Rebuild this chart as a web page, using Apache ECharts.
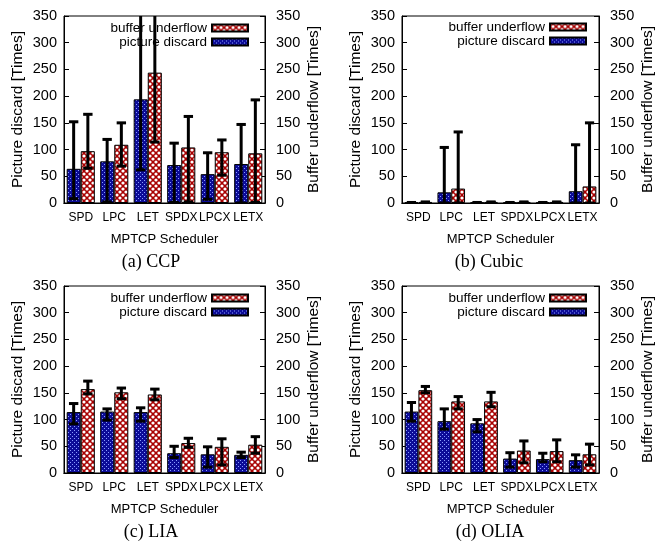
<!DOCTYPE html>
<html>
<head>
<meta charset="utf-8">
<script src="https://cdn.jsdelivr.net/npm/echarts@6/dist/echarts.min.js"></script>
<style>
  html, body { margin: 0; padding: 0; background: #fff; }
  #main { width: 657px; height: 545px; }
</style>
</head>
<body>
<div id="main"></div>
<script>
var categories = ['SPD', 'LPC', 'LET', 'SPDX', 'LPCX', 'LETX'];
var captions = ['(a) CCP', '(b) Cubic', '(c) LIA', '(d) OLIA'];

// picture discard (blue) and buffer underflow (red), with error bar low/high
var ccpDiscard = [64, 78, 194, 71, 54, 73];
var ccpDiscardLow = [8, 2, 62, 1, 7, 0];
var ccpDiscardHigh = [152, 119, 400, 112, 94, 147];
var ccpUnderflow = [97, 109, 244, 104, 95, 93];
var ccpUnderflowLow = [65, 69, 114, 2, 52, 1];
var ccpUnderflowHigh = [166, 150, 400, 162, 118, 193];

var cubicDiscard = [1, 20, 1, 1, 1, 22];
var cubicDiscardLow = [0, 0, 0, 0, 0, 0];
var cubicDiscardHigh = [1, 104, 1, 1, 1, 109];
var cubicUnderflow = [2, 27, 2, 2, 2, 31];
var cubicUnderflowLow = [1, 0, 1, 1, 1, 0];
var cubicUnderflowHigh = [2, 133, 2, 2, 2, 150];

var liaDiscard = [114, 115, 114, 37, 35, 34];
var liaDiscardLow = [92, 99, 97, 29, 11, 29];
var liaDiscardHigh = [130, 120, 122, 50, 49, 39];
var liaUnderflow = [157, 151, 147, 56, 49, 53];
var liaUnderflowLow = [148, 139, 137, 48, 15, 37];
var liaUnderflowHigh = [172, 159, 157, 65, 64, 68];

var oliaDiscard = [115, 97, 93, 27, 26, 24];
var oliaDiscardLow = [97, 82, 77, 11, 21, 11];
var oliaDiscardHigh = [132, 120, 100, 38, 37, 34];
var oliaUnderflow = [155, 134, 134, 42, 41, 35];
var oliaUnderflowLow = [150, 120, 124, 19, 21, 15];
var oliaUnderflowHigh = [162, 143, 151, 60, 62, 54];

var panels = [
  {disc: ccpDiscard, dLo: ccpDiscardLow, dHi: ccpDiscardHigh, buf: ccpUnderflow, bLo: ccpUnderflowLow, bHi: ccpUnderflowHigh},
  {disc: cubicDiscard, dLo: cubicDiscardLow, dHi: cubicDiscardHigh, buf: cubicUnderflow, bLo: cubicUnderflowLow, bHi: cubicUnderflowHigh},
  {disc: liaDiscard, dLo: liaDiscardLow, dHi: liaDiscardHigh, buf: liaUnderflow, bLo: liaUnderflowLow, bHi: liaUnderflowHigh},
  {disc: oliaDiscard, dLo: oliaDiscardLow, dHi: oliaDiscardHigh, buf: oliaUnderflow, bLo: oliaUnderflowLow, bHi: oliaUnderflowHigh}
];

// gnuplot-ish fill patterns
function bluePattern() {
  var c = document.createElement('canvas');
  c.width = 4; c.height = 4;
  var ctx = c.getContext('2d');
  ctx.fillStyle = '#0c0c98';
  ctx.fillRect(0, 0, 4, 4);
  ctx.fillStyle = '#8a9cff';
  ctx.fillRect(0, 0, 1, 1);
  ctx.fillRect(2, 2, 1, 1);
  return c;
}
function redPattern() {
  var c = document.createElement('canvas');
  c.width = 6; c.height = 6;
  var ctx = c.getContext('2d');
  ctx.fillStyle = '#a80000';
  ctx.fillRect(0, 0, 6, 6);
  ctx.fillStyle = '#ffffff';
  ctx.beginPath(); ctx.arc(3, 3, 1.6, 0, Math.PI * 2); ctx.fill();
  ctx.beginPath(); ctx.arc(0, 0, 1.6, 0, Math.PI * 2); ctx.fill();
  ctx.beginPath(); ctx.arc(6, 0, 1.6, 0, Math.PI * 2); ctx.fill();
  ctx.beginPath(); ctx.arc(0, 6, 1.6, 0, Math.PI * 2); ctx.fill();
  ctx.beginPath(); ctx.arc(6, 6, 1.6, 0, Math.PI * 2); ctx.fill();
  return c;
}
var blueFill = {image: bluePattern(), repeat: 'repeat'};
var redFill = {image: redPattern(), repeat: 'repeat'};

var grids = [
  {left: 64, top: 16, width: 201, height: 187},
  {left: 402, top: 16, width: 201, height: 187},
  {left: 64, top: 286, width: 201, height: 187},
  {left: 402, top: 286, width: 201, height: 187}
];
var legendPos = [
  {right: 408, top: 21},
  {right: 70, top: 20},
  {right: 408, top: 291},
  {right: 70, top: 291}
];
var captionPos = [[151, 262], [489, 262], [151, 532], [490, 532]];

function errorBar(side) {
  return function (params, api) {
    var band = api.size([1, 0])[0];
    var off = band * 0.212 * side;
    var lo = api.coord([api.value(0), api.value(1)]);
    var hi = api.coord([api.value(0), api.value(2)]);
    var cx = lo[0] + off;
    var half = band * 0.14;
    var st = {stroke: '#000', lineWidth: 3};
    return {
      type: 'group',
      children: [
        {type: 'line', shape: {x1: cx, y1: lo[1], x2: cx, y2: hi[1]}, style: st},
        {type: 'line', shape: {x1: cx - half, y1: lo[1], x2: cx + half, y2: lo[1]}, style: st},
        {type: 'line', shape: {x1: cx - half, y1: hi[1], x2: cx + half, y2: hi[1]}, style: st}
      ]
    };
  };
}

var xAxes = [], yAxes = [], series = [], legends = [], graphics = [];
grids.forEach(function (g, i) {
  var p = panels[i];
  xAxes.push({
    gridIndex: i, type: 'category', data: categories, position: 'bottom',
    axisLine: {lineStyle: {color: '#000', width: 1}},
    axisTick: {inside: true, length: 4, alignWithLabel: true, lineStyle: {color: '#000'}},
    axisLabel: {color: '#000', fontSize: 12, margin: 9, interval: 0, hideOverlap: false},
    name: 'MPTCP Scheduler', nameLocation: 'middle', nameGap: 30,
    nameTextStyle: {color: '#000', fontSize: 13}
  });
  xAxes.push({
    gridIndex: i, type: 'category', data: categories, position: 'top',
    axisLine: {lineStyle: {color: '#000', width: 1}},
    axisTick: {inside: true, length: 4, alignWithLabel: true, lineStyle: {color: '#000'}},
    axisLabel: {show: false}
  });
  yAxes.push({
    gridIndex: i, type: 'value', position: 'left', min: 0, max: 350, interval: 50,
    splitLine: {show: false},
    axisLine: {show: true, lineStyle: {color: '#000', width: 1}},
    axisTick: {show: true, inside: true, length: 5, lineStyle: {color: '#000'}},
    axisLabel: {color: '#000', fontSize: 14.5, margin: 7},
    name: 'Picture discard [Times]', nameLocation: 'middle', nameGap: 38, nameRotate: 90,
    nameTextStyle: {color: '#000', fontSize: 15.5}
  });
  yAxes.push({
    gridIndex: i, type: 'value', position: 'right', min: 0, max: 350, interval: 50,
    splitLine: {show: false},
    axisLine: {show: true, lineStyle: {color: '#000', width: 1}},
    axisTick: {show: true, inside: true, length: 5, lineStyle: {color: '#000'}},
    axisLabel: {color: '#000', fontSize: 14.5, margin: 11},
    name: 'Buffer underflow [Times]', nameLocation: 'middle', nameGap: 41, nameRotate: 90,
    nameTextStyle: {color: '#000', fontSize: 15.5}
  });
  series.push({
    name: 'picture discard', type: 'bar', xAxisIndex: 2 * i, yAxisIndex: 2 * i,
    data: p.disc, barWidth: '42%', barGap: '0%',
    itemStyle: {color: blueFill, borderColor: '#000', borderWidth: 1}
  });
  series.push({
    name: 'buffer underflow', type: 'bar', xAxisIndex: 2 * i, yAxisIndex: 2 * i,
    data: p.buf, barWidth: '42%', barGap: '0%',
    itemStyle: {color: redFill, borderColor: '#000', borderWidth: 1}
  });
  series.push({
    type: 'custom', xAxisIndex: 2 * i, yAxisIndex: 2 * i, clip: true, z: 5,
    renderItem: errorBar(-1),
    data: categories.map(function (c, k) { return [k, p.dLo[k], p.dHi[k]]; })
  });
  series.push({
    type: 'custom', xAxisIndex: 2 * i, yAxisIndex: 2 * i, clip: true, z: 5,
    renderItem: errorBar(1),
    data: categories.map(function (c, k) { return [k, p.bLo[k], p.bHi[k]]; })
  });
  legends.push({
    right: legendPos[i].right, top: legendPos[i].top, orient: 'vertical', align: 'right',
    itemWidth: 36, itemHeight: 7, itemGap: 0, padding: 0, icon: 'rect',
    selectedMode: false,
    textStyle: {color: '#000', fontSize: 13.5, lineHeight: 13.5},
    data: ['buffer underflow', 'picture discard']
  });
  graphics.push({
    type: 'text', x: captionPos[i][0], y: captionPos[i][1],
    style: {
      text: captions[i], fill: '#000', fontSize: 18, fontFamily: 'Liberation Serif',
      align: 'center', verticalAlign: 'middle', textAlign: 'center', textVerticalAlign: 'middle'
    }
  });
});

var myChart = echarts.init(document.getElementById('main'));
var option = {
  animation: false,
  backgroundColor: '#fff',
  textStyle: {fontFamily: 'Liberation Sans'},
  grid: grids.map(function (g) {
    return {left: g.left, top: g.top, width: g.width, height: g.height, show: true, borderColor: '#000', borderWidth: 1};
  }),
  xAxis: xAxes,
  yAxis: yAxes,
  legend: legends,
  series: series,
  graphic: graphics
};
myChart.setOption(option);
</script>
</body>
</html>
